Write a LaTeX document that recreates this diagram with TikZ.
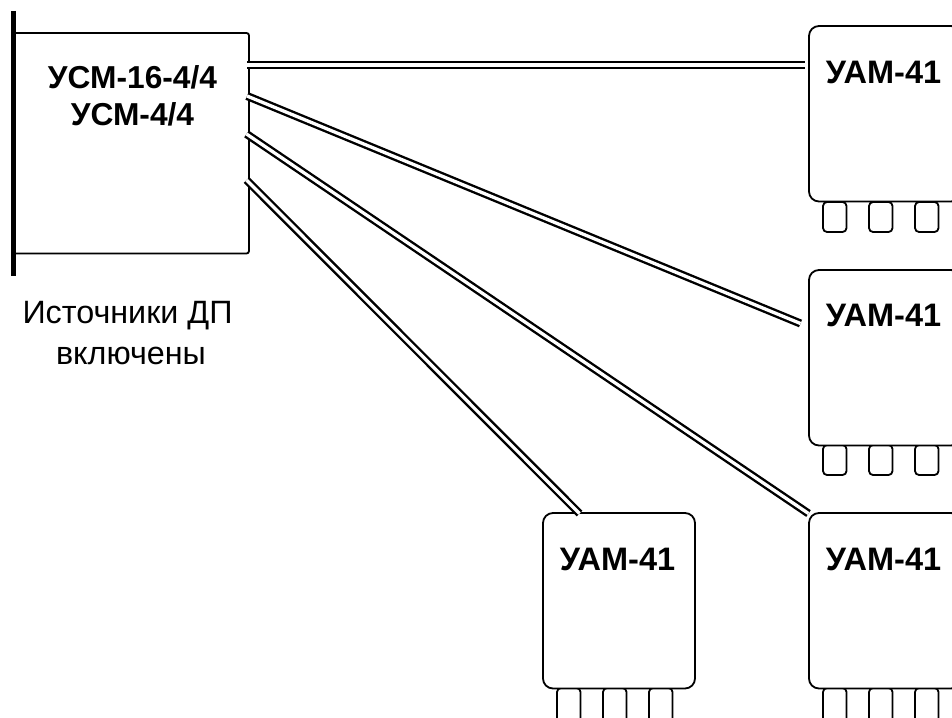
\documentclass[tikz,border=0pt]{standalone}
\usepackage{fontspec}
\setmainfont{Liberation Sans}
\begin{document}
\begin{tikzpicture}[x=1pt,y=-1pt,
  boxbase/.style={draw=black,line width=1.8pt,fill=white,rounded corners=#1,inner sep=0pt,outer sep=0pt,anchor=north west},
  srcbox/.style={boxbase=2.5pt,minimum width=235.5pt,minimum height=220.5pt},
  ambox/.style={boxbase=10pt,minimum width=152pt,minimum height=175.5pt},
  portbox/.style={boxbase=4pt,minimum width=23.5pt,minimum height=30pt},
  title/.style={font=\fontsize{31.7}{34}\selectfont\bfseries,anchor=base,inner sep=0pt},
  unitname/.style={font=\fontsize{32.5}{34}\selectfont\bfseries,anchor=base,inner sep=0pt},
  caption/.style={font=\fontsize{32.3}{34}\selectfont,anchor=base,inner sep=0pt},
  link/.style={draw=black,line width=2.4pt,double=white,double distance=3.3pt},
  bar/.style={draw=black,line width=5pt}]
\useasboundingbox (0,0) rectangle (952,717);
\clip (0,0) rectangle (952,717);
\fill[white] (0,0) rectangle (952,717);

% source unit
\node[srcbox] (usm) at (13.5,33) {};
\coordinate (bartop) at (13.5,11);
\coordinate (barbot) at (13.5,276);
\draw[bar] (bartop) -- (barbot);
\node[title] (usma) at (132.5,88) {УСМ-16-4/4};
\node[title] (usmb) at (132.5,125) {УСМ-4/4};
\node[caption] (capa) at (127.5,323) {Источники ДП};
\node[caption] (capb) at (131,364) {включены};

% ports (drawn under the units)
\foreach \n/\px/\py/\ph in {a1/823/202/30,a2/869/202/30,a3/915/202/30,
  b1/823/445/30,b2/869/445/30,b3/915/445/30,
  c1/823/688/36,c2/869/688/36,c3/915/688/36,
  d1/557/688/36,d2/603/688/36,d3/649/688/36}
  \node[portbox,minimum height=\ph pt] (port\n) at (\px,\py) {};

% amplifier units
\node[ambox] (uama) at (809,26) {};
\node[ambox] (uamb) at (809,270) {};
\node[ambox] (uamc) at (809,513) {};
\node[ambox] (uamd) at (543,513) {};
\node[unitname] (ta) at (883.5,83) {УАМ-41};
\node[unitname] (tb) at (883.5,326) {УАМ-41};
\node[unitname] (tc) at (883.5,570) {УАМ-41};
\node[unitname] (td) at (617.5,570) {УАМ-41};

% connector ends
\coordinate (sa) at (247,65);
\coordinate (ea) at (805,65);
\coordinate (sb) at (247,96);
\coordinate (eb) at (800.5,323.5);
\coordinate (sc) at (246.5,134);
\coordinate (ec) at (808.5,513.5);
\coordinate (sd) at (246.5,180);
\coordinate (ed) at (579.5,513.5);
\draw[link] (sa) -- (ea);
\draw[link] (sb) -- (eb);
\draw[link] (sc) -- (ec);
\draw[link] (sd) -- (ed);
\end{tikzpicture}
\end{document}
